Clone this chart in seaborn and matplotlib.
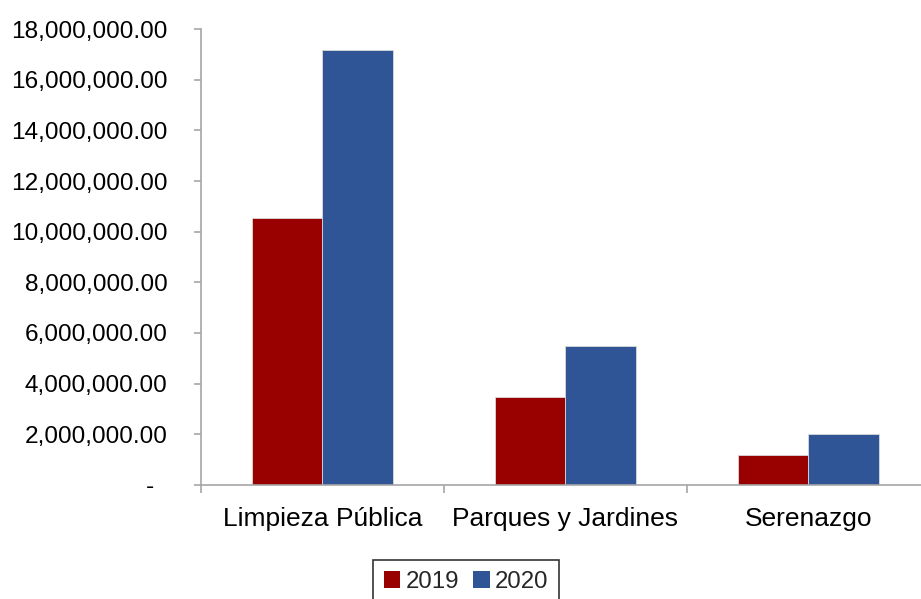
import numpy as np
import pandas as pd
import matplotlib.pyplot as plt
import matplotlib.ticker as mticker
from matplotlib.patches import Patch
import seaborn as sns

# datos
servicios = ["Limpieza Pública", "Parques y Jardines", "Serenazgo"]
monto_2019 = [10550000, 3480000, 1180000]
monto_2020 = [17200000, 5500000, 2000000]
anios = ["2019", "2020"]
colores = ["#990000", "#2F5597"]

df = pd.DataFrame({
    "servicio": servicios * 2,
    "anio": [anios[0]] * 3 + [anios[1]] * 3,
    "monto": monto_2019 + monto_2020,
})

sns.set_style("white")
plt.rcParams['font.family'] = ['Liberation Sans', 'DejaVu Sans']

fig = plt.figure(figsize=(9.21, 5.99), dpi=100)
ax = fig.add_axes([201 / 921, 1 - 484.7 / 599, 1 - 201 / 921, (484.7 - 29.3) / 599])

sns.barplot(data=df, x="servicio", y="monto", hue="anio", palette=colores,
            width=0.577, edgecolor="#d9d9d9", linewidth=0.6, saturation=1,
            legend=False, ax=ax)

ax.set_ylim(0, 18000000)
ax.set_xlim(-0.5, 2.463)
ax.yaxis.set_major_locator(mticker.MultipleLocator(2000000))


def formato(v, pos):
    if v == 0:
        return "-  "
    return f"{v:,.2f}"


ax.yaxis.set_major_formatter(mticker.FuncFormatter(formato))

ax.set_xlabel("")
ax.set_ylabel("")

for lado in ["top", "right"]:
    ax.spines[lado].set_visible(False)
for lado in ["left", "bottom"]:
    ax.spines[lado].set_color("#a6a6a6")
    ax.spines[lado].set_linewidth(1.2)

ax.tick_params(axis="y", direction="out", length=5, width=1.2, color="#a6a6a6",
               pad=19, labelsize=17.6, labelcolor="black", left=True)
ax.tick_params(axis="x", which="major", length=0, pad=16, labelsize=19,
               labelcolor="black")
ax.set_xticks([-0.5, 0.5, 1.5], minor=True)
ax.tick_params(axis="x", which="minor", direction="out", length=6, width=1.2,
               color="#a6a6a6", bottom=True)

manijas = [Patch(facecolor=c, edgecolor="none") for c in colores]
leg = fig.legend(manijas, anios, loc="upper center", bbox_to_anchor=(466 / 921, 1 - 560 / 599),
                 ncol=2, frameon=True, fancybox=False, fontsize=17.3,
                 handlelength=0.7, handleheight=0.7, handletextpad=0.2,
                 columnspacing=0.6, borderpad=0.45, borderaxespad=0)
leg.get_frame().set_edgecolor("black")
leg.get_frame().set_linewidth(1.2)

fig.savefig("out.png", dpi=100)
